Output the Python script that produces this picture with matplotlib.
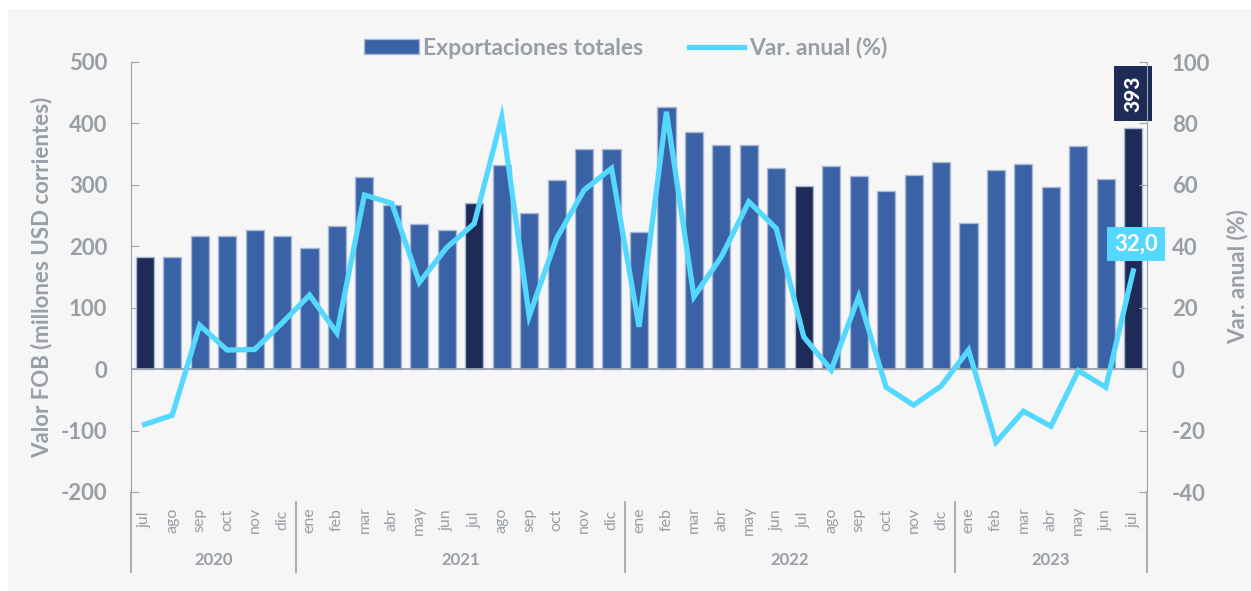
import matplotlib
matplotlib.use("Agg")
import matplotlib.pyplot as plt
from matplotlib.patches import Rectangle, Patch
from matplotlib.lines import Line2D
import matplotlib.transforms as mtransforms

plt.rcParams['font.family'] = ['Lato', 'DejaVu Sans']
plt.rcParams['axes.unicode_minus'] = False

months = ["jul", "ago", "sep", "oct", "nov", "dic",
          "ene", "feb", "mar", "abr", "may", "jun", "jul", "ago", "sep", "oct", "nov", "dic",
          "ene", "feb", "mar", "abr", "may", "jun", "jul", "ago", "sep", "oct", "nov", "dic",
          "ene", "feb", "mar", "abr", "may", "jun", "jul"]
years = ["2020", "2021", "2022", "2023"]
year_spans = [(0, 5), (6, 17), (18, 29), (30, 36)]

exports = [183, 183, 217, 217, 227, 217,
           197, 233, 313, 268, 236, 226, 270, 333, 255, 308, 359, 358,
           224, 427, 386, 365, 365, 328, 298, 331, 314, 290, 316, 338,
           238, 325, 334, 297, 363, 309, 393]
var_anual = [-18.0, -15.0, 14.3, 6.2, 6.4, 15.0,
             24.1, 11.8, 56.7, 54.0, 28.2, 39.6, 47.4, 82.0, 17.3, 42.6, 58.3, 65.4,
             13.8, 83.8, 23.6, 36.6, 54.5, 45.8, 10.5, -0.3, 23.6, -5.9, -11.7, -5.5,
             6.2, -23.8, -13.7, -18.6, -0.5, -5.9, 32.0]
highlight = [m == "jul" for m in months]

GREY = "#979EA6"
BAR = "#3A62A7"
BAR_DARK = "#1F2B57"
LINE = "#55D8FF"
PANEL = "#F6F6F6"

W, H = 1251, 591
fig = plt.figure(figsize=(W / 100, H / 100), dpi=100, facecolor="white")
fig.patches.append(Rectangle((8 / W, 0), 1 - 8 / W, 1 - 9 / H, transform=fig.transFigure,
                             facecolor=PANEL, edgecolor="none", zorder=-10))

left, right = 131 / W, 1147 / W
top, bottom = 1 - 62 / H, 1 - 492 / H
ax = fig.add_axes([left, bottom, right - left, top - bottom])
ax.set_facecolor("none")
ax2 = ax.twinx()

x = list(range(len(months)))
colors = [BAR_DARK if h else BAR for h in highlight]
ax.bar(x, exports, width=0.66, color=colors, edgecolor="#A9B8D3", linewidth=1.0, zorder=2)
ax.axhline(0, color="#9AA1A8", lw=1.3, zorder=3)
ax.set_xlim(-0.5, len(months) - 0.5)
ax.set_ylim(-200, 500)
ax.set_yticks(range(-200, 501, 100))

ax2.plot(x, var_anual, color=LINE, lw=3.8, solid_joinstyle="miter", zorder=5)
ax2.set_ylim(-40, 100)
ax2.set_yticks(range(-40, 101, 20))

for a in (ax, ax2):
    for s in a.spines.values():
        s.set_visible(False)
    a.set_xticks([])
ax.spines["left"].set_visible(True)
ax.spines["left"].set_color("#9AA1A8")
ax2.spines["right"].set_visible(True)
ax2.spines["right"].set_color("#9AA1A8")

ax.tick_params(axis="y", direction="in", length=6, color="#9AA1A8", pad=17,
               labelsize=16, labelcolor=GREY)
ax2.tick_params(axis="y", direction="in", length=6, color="#9AA1A8", pad=18,
                labelsize=16, labelcolor=GREY)
for lab in ax.get_yticklabels() + ax2.get_yticklabels():
    lab.set_fontweight("bold")

ax.set_ylabel("Valor FOB (millones USD corrientes)", fontsize=16, fontweight="bold",
              color=GREY, labelpad=6)
ax2.set_ylabel("Var. anual (%)", fontsize=16, fontweight="bold", color=GREY, labelpad=12)

trans = mtransforms.blended_transform_factory(ax.transData, ax.transAxes)
for i, m in enumerate(months):
    ax.text(i, -0.065, m, rotation=90, ha="center", va="center", fontsize=11.5,
            color=GREY, transform=trans, clip_on=False)
for yr, (a, b) in zip(years, year_spans):
    ax.text((a + b) / 2, -0.158, yr, ha="center", va="center", fontsize=12,
            fontweight="bold", color=GREY, transform=trans, clip_on=False)
for xb in [5.5, 17.5, 29.5]:
    ax.add_line(Line2D([xb, xb], [-0.023, -0.186], transform=trans, color="#9AA1A8",
                       lw=1.2, clip_on=False))
for xb in [-0.5, len(months) - 0.5]:
    ax.add_line(Line2D([xb, xb], [0, -0.186], transform=trans, color="#9AA1A8",
                       lw=1.2, clip_on=False))

# data labels
ax.text(x[-1], 449, f"{exports[-1]}", rotation=90, ha="center", va="center",
        fontsize=15, fontweight="black", color="white", zorder=6,
        bbox=dict(boxstyle="square,pad=0.45", facecolor=BAR_DARK, edgecolor="none"))
ax2.text(x[-1] + 0.1, 40.7, f"{var_anual[-1]:.1f}".replace(".", ","), ha="center",
         va="center", fontsize=16, fontweight="bold", color="white", zorder=6,
         bbox=dict(boxstyle="square,pad=0.3", facecolor=LINE, edgecolor="none"))

handles = [Patch(facecolor=BAR, edgecolor="#A9B8D3", label="Exportaciones totales"),
           Line2D([], [], color=LINE, lw=3.8, label="Var. anual (%)")]
leg = fig.legend(handles=handles, loc="center", bbox_to_anchor=(0.5, 1 - 48 / H), ncol=2,
                 frameon=False, fontsize=16.5, handlelength=2.4, handleheight=0.65,
                 columnspacing=2.0, handletextpad=0.2)
for t in leg.get_texts():
    t.set_color(GREY)
    t.set_fontweight("bold")

fig.savefig("out.png", dpi=100, facecolor="white")
